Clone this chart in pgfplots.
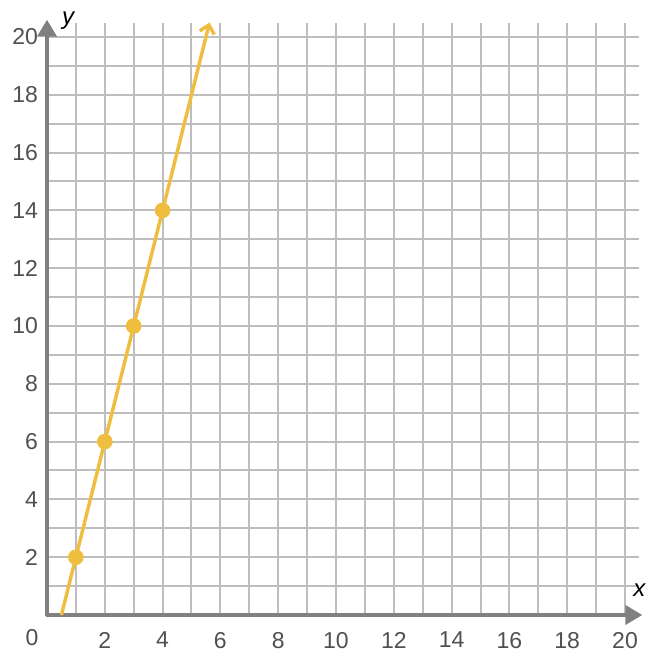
\documentclass[border=0pt]{standalone}
\usepackage{fontspec}
\setmainfont{Liberation Sans}
\usepackage{pgfplots}
\pgfplotsset{compat=1.18}
\usetikzlibrary{arrows.meta}
\definecolor{lineyel}{RGB}{240,190,62}
\definecolor{gridgray}{RGB}{190,190,190}
\definecolor{axgray}{RGB}{128,128,128}
\definecolor{labgray}{RGB}{80,80,80}
\begin{document}
\begin{tikzpicture}
\begin{axis}[
    x=14.45pt, y=14.45pt,
    xmin=0, xmax=20.5,
    ymin=0, ymax=20.5,
    axis line style={draw=none},
    xtick={2,4,...,20},
    ytick={2,4,...,20},
    minor xtick={1,3,...,19},
    minor ytick={1,3,...,19},
    grid=both,
    major grid style={gridgray, line width=1pt},
    minor grid style={gridgray, line width=1pt},
    tick style={draw=none},
    tick label style={font=\fontsize{11.5}{13}\selectfont, text=labgray},
    /pgf/number format/assume math mode=true,
    xticklabel style={yshift=-5pt},
    yticklabel style={xshift=-1pt},
    clip=false,
]
% axes with arrow heads
\draw[axgray, line width=2pt, -{Triangle[width=9.5pt,length=8.5pt]}]
    (axis cs:-0.035,0) -- (axis cs:20.6,0);
\draw[axgray, line width=2pt, -{Triangle[width=9.5pt,length=8.5pt]}]
    (axis cs:0,-0.035) -- (axis cs:0,20.6);

% line y = 4x - 2
\addplot[lineyel, line width=1.7pt, -{Straight Barb[width=7.5pt,length=4pt]}]
    coordinates {(0.5,0) (1,2) (2,6) (3,10) (4,14) (5.625,20.5)};
\addplot[lineyel, only marks, mark=*, mark size=3.7pt]
    coordinates {(1,2) (2,6) (3,10) (4,14)};

\node[labgray, font=\fontsize{11.5}{13}\selectfont] at (axis cs:0,0) [xshift=-7.5pt, yshift=-11.5pt] {0};
\node[font=\fontsize{12}{13}\selectfont\itshape] at (axis cs:0.73,20.55) {y};
\node[font=\fontsize{12}{13}\selectfont\itshape] at (axis cs:20.5,0.87) {x};

\coordinate (bl) at (axis cs:-1.626,-1.557);
\coordinate (tr) at (axis cs:21.28,21.28);
\end{axis}
\pgfresetboundingbox
\path (bl) rectangle (tr);
\end{tikzpicture}
\end{document}
